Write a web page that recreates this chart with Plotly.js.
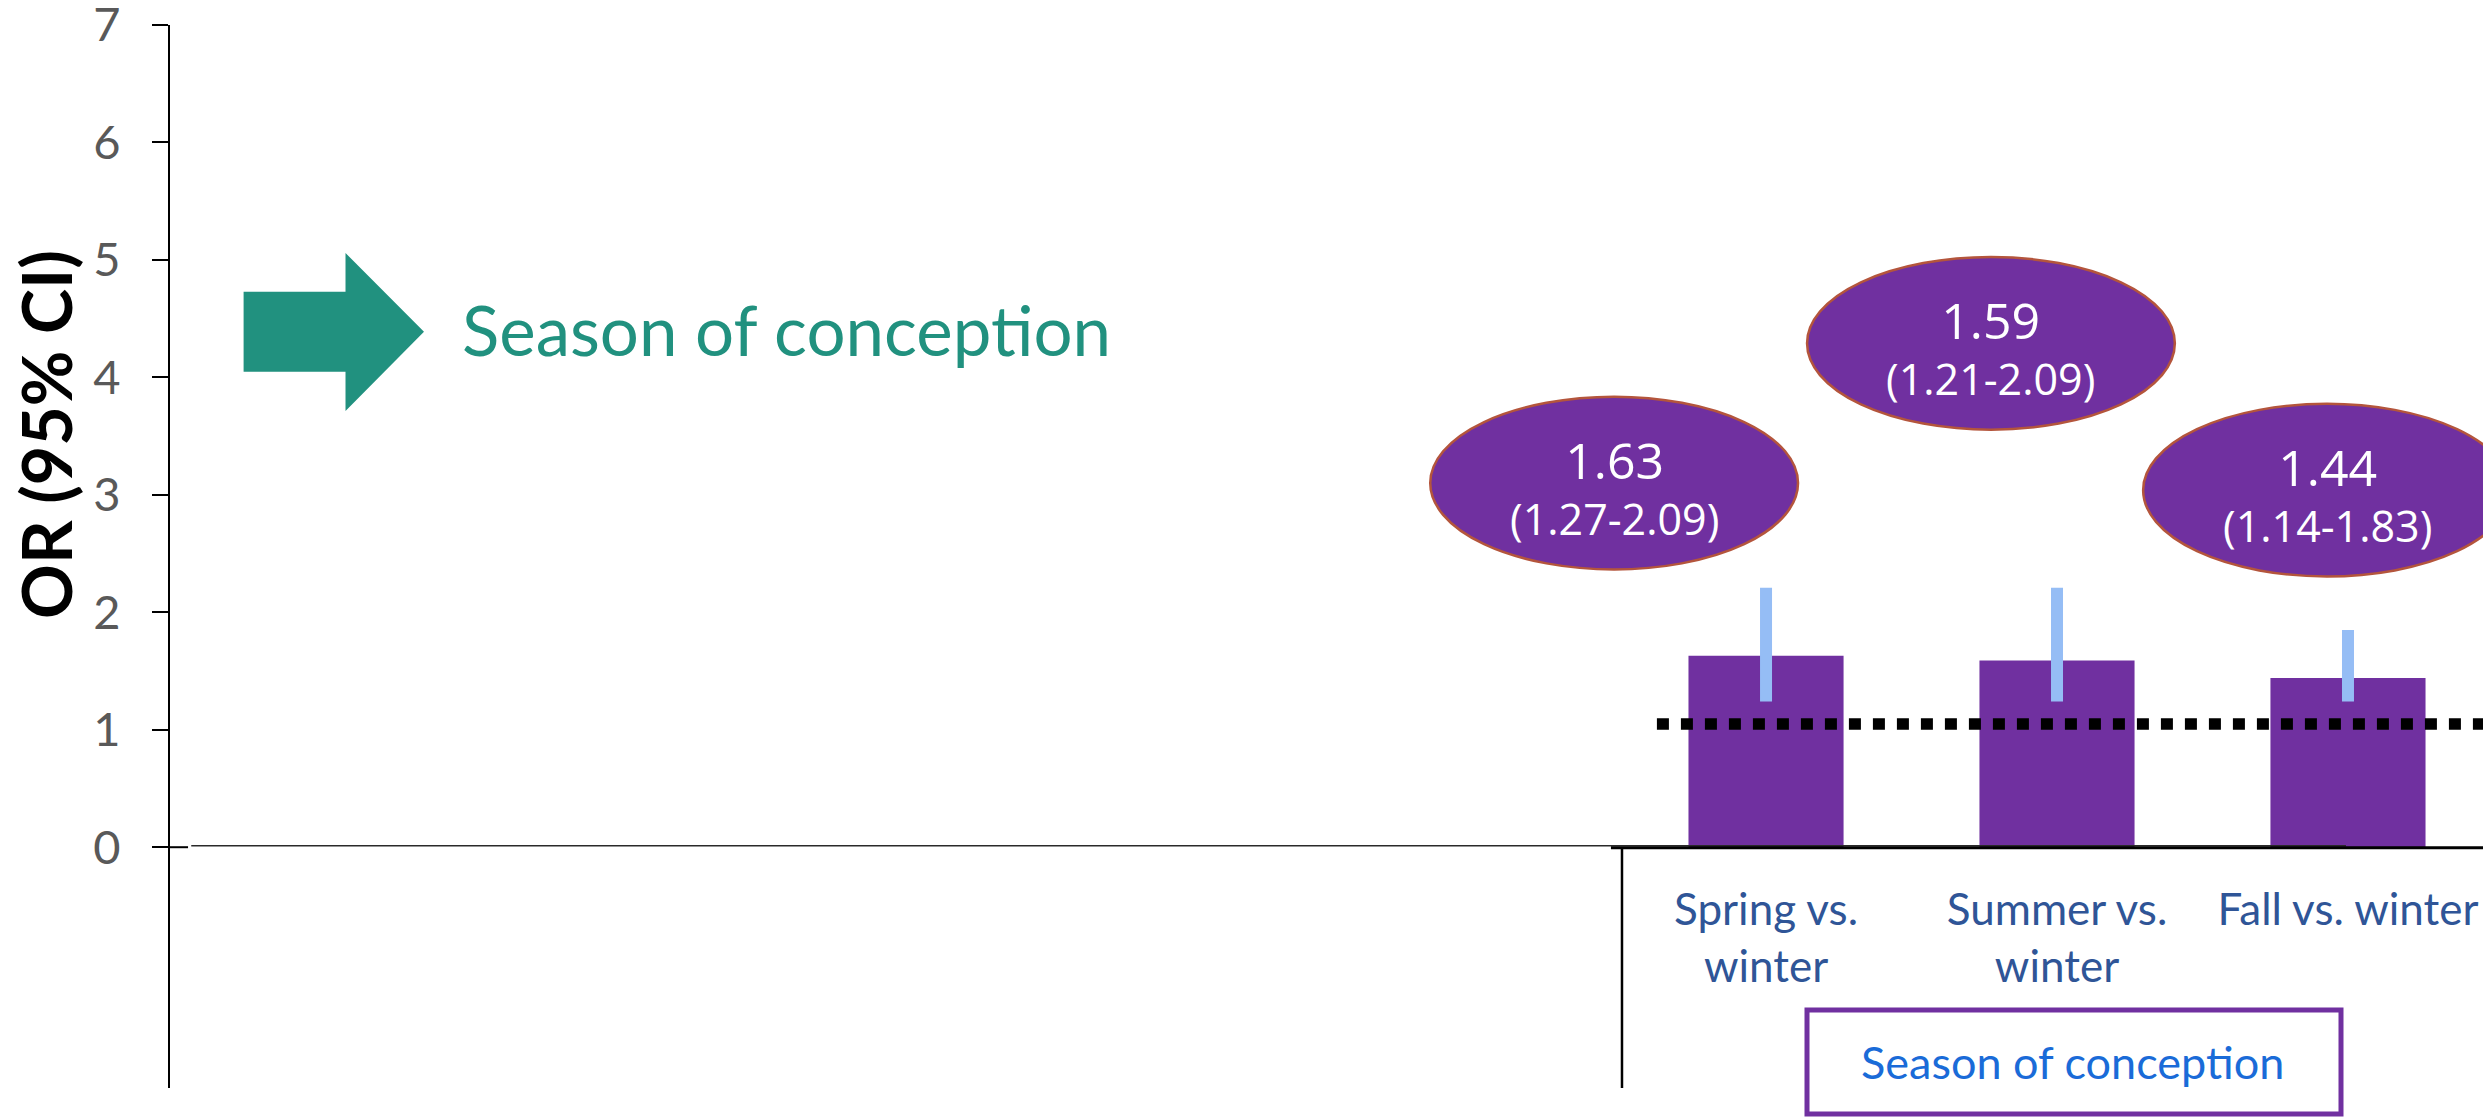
<!DOCTYPE html>
<html>
<head>
<meta charset="utf-8">
<script src="https://cdn.plot.ly/plotly-3.0.1.min.js"></script>
<style>
  html, body { margin: 0; padding: 0; background: #ffffff; }
  #chart { width: 2483px; height: 1117px; }
</style>
</head>
<body>
<div id="chart"></div>
<script>
// ---------- data ----------
const categories = ['Spring vs. winter', 'Summer vs. winter', 'Fall vs. winter'];
const tickLabels = ['Spring vs.<br>winter', 'Summer vs.<br>winter', 'Fall vs. winter'];
const orValues = [1.63, 1.59, 1.44];
const ciLow = [1.27, 1.21, 1.14];
const ciHigh = [2.09, 2.09, 1.83];
// whisker ends as drawn in the picture
const whiskerLow = [1.24, 1.24, 1.24];
const whiskerHigh = [2.21, 2.21, 1.85];
const refLineOR = [1.05];
const yTickVals = [0, 1, 2, 3, 4, 5, 6, 7];
const yTitle = 'OR (95% CI)';
const groupTitle = 'Season of conception';

// ---------- layout geometry ----------
const W = 2483, H = 1117;
const M = { l: 170, r: 0, t: 25, b: 29 };
const yMin = -2.05, yMax = 7;
const xMin = -5.485, xMax = 2.464;
const plotW = W - M.l - M.r, plotH = H - M.t - M.b;
const px2x = px => (px - M.l) / plotW;          // paper x
const py2y = py => (H - M.b - py) / plotH;      // paper y

// callout ellipse placement (category units / OR units)
const ellCx = [-0.522, 0.773, 1.928];
const ellCy = [3.10, 4.29, 3.04];
const ellRx = 0.632, ellRy = 0.735;

const purple = '#7030A0';
const teal = '#21917F';

const shapes = [];
// thin baseline at 0
shapes.push({ type: 'line', xref: 'x', yref: 'y', x0: -5.412, x1: 1.993, y0: 0.013, y1: 0.013,
  line: { color: '#2a2a2a', width: 1.5 } });
// thick baseline for the category block
shapes.push({ type: 'line', xref: 'x', yref: 'y', x0: -0.533, x1: 3, y0: -0.004, y1: -0.004,
  line: { color: '#000000', width: 3 } });
// tick crossing at 0
shapes.push({ type: 'line', xref: 'x', yref: 'y', x0: xMin, x1: -5.423, y0: 0, y1: 0,
  line: { color: '#000000', width: 2 } });
// vertical separator of category block
shapes.push({ type: 'line', xref: 'x', yref: 'y', x0: -0.495, x1: -0.495, y0: 0, y1: -2.2,
  line: { color: '#000000', width: 2.5 } });
// dotted reference line
shapes.push({ type: 'line', xref: 'x', yref: 'y', x0: -0.375, x1: 3, y0: refLineOR[0], y1: refLineOR[0],
  line: { color: '#000000', width: 11.5, dash: '12px,12px' } });
// callout ellipses
for (let i = 0; i < categories.length; i++) {
  shapes.push({ type: 'circle', xref: 'x', yref: 'y',
    x0: ellCx[i] - ellRx, x1: ellCx[i] + ellRx, y0: ellCy[i] - ellRy, y1: ellCy[i] + ellRy,
    fillcolor: purple, line: { color: '#B4553C', width: 2.5 } });
}
// teal arrow
const arrowPts = [[243.6, 291.7], [345.5, 291.7], [345.5, 253], [424, 331.7], [345.5, 411], [345.5, 371.7], [243.6, 371.7]];
shapes.push({ type: 'path', xref: 'paper', yref: 'paper',
  path: 'M ' + arrowPts.map(p => px2x(p[0]).toFixed(5) + ',' + py2y(p[1]).toFixed(5)).join(' L ') + ' Z',
  fillcolor: teal, line: { width: 0 } });
// group box
shapes.push({ type: 'rect', xref: 'paper', yref: 'paper',
  x0: px2x(1807), x1: px2x(2341), y0: py2y(1114), y1: py2y(1010),
  fillcolor: 'rgba(0,0,0,0)', line: { color: purple, width: 5 } });

const annotations = [];
for (let i = 0; i < categories.length; i++) {
  annotations.push({ xref: 'x', yref: 'y', x: ellCx[i], y: ellCy[i], yshift: -4,
    text: '<span style="font-size:50px">' + orValues[i].toFixed(2) + '</span><br>(' +
      ciLow[i].toFixed(2) + '-' + ciHigh[i].toFixed(2) + ')',
    showarrow: false, xanchor: 'center', yanchor: 'middle', align: 'center',
    font: { family: 'Open Sans', size: 43, color: '#ffffff' } });
}
annotations.push({ xref: 'paper', yref: 'paper', x: px2x(46), y: py2y(435), text: yTitle,
  textangle: -90, showarrow: false, xanchor: 'center', yanchor: 'middle',
  font: { family: 'Lato', size: 68, color: '#000000', weight: 'bold' } });
annotations.push({ xref: 'paper', yref: 'paper', x: px2x(786), y: py2y(330), text: groupTitle,
  showarrow: false, xanchor: 'center', yanchor: 'middle',
  font: { family: 'Lato', size: 69, color: teal } });
annotations.push({ xref: 'paper', yref: 'paper', x: px2x(2072), y: py2y(1062), text: groupTitle,
  showarrow: false, xanchor: 'center', yanchor: 'middle',
  font: { family: 'Lato', size: 45, color: '#1A6BD8' } });

const traces = [{
  type: 'bar', x: categories, y: orValues, width: 0.533,
  marker: { color: purple, line: { width: 0 } },
  error_y: { type: 'data', symmetric: false,
    array: whiskerHigh.map((h, i) => h - orValues[i]),
    arrayminus: whiskerLow.map((l, i) => orValues[i] - l),
    color: '#95BDF5', thickness: 12, width: 0 },
  hoverinfo: 'none'
}];

const layout = {
  width: W, height: H,
  margin: { l: M.l, r: M.r, t: M.t, b: M.b, pad: 0 },
  paper_bgcolor: '#ffffff', plot_bgcolor: '#ffffff',
  showlegend: false,
  xaxis: {
    type: 'category', range: [xMin, xMax], anchor: 'free', position: (0 - yMin) / (yMax - yMin),
    tickvals: categories, ticktext: tickLabels, ticks: '', showline: false, showgrid: false, zeroline: false,
    tickfont: { family: 'Lato', size: 44, color: '#2F5597' }, ticklabelstandoff: 33, fixedrange: true
  },
  yaxis: {
    range: [yMin, yMax], tickvals: yTickVals, ticks: 'outside', ticklen: 16, tickwidth: 2, tickcolor: '#000000',
    showline: true, linecolor: '#000000', linewidth: 2, showgrid: false, zeroline: false,
    ticklabeloverflow: 'allow',
    tickfont: { family: 'Lato', size: 47, color: '#595959' }, ticklabelstandoff: 22, fixedrange: true
  },
  shapes: shapes,
  annotations: annotations
};

Plotly.newPlot('chart', traces, layout, { displayModeBar: false, staticPlot: true });
</script>
</body>
</html>
